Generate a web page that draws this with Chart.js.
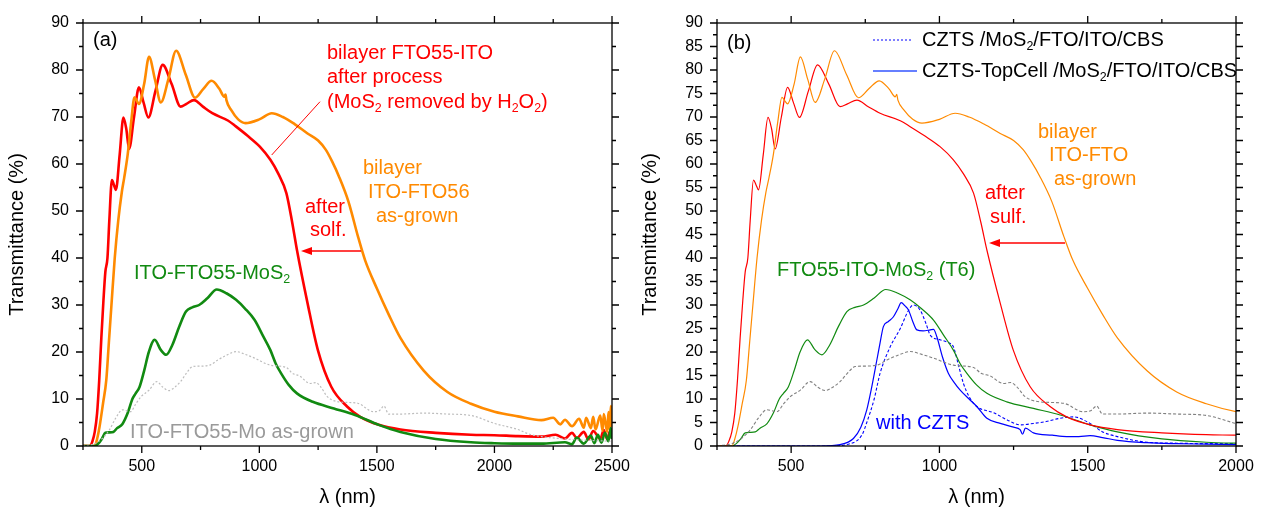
<!DOCTYPE html>
<html>
<head>
<meta charset="utf-8">
<script src="https://cdn.jsdelivr.net/npm/chart.js"></script>
<style>
  body { margin: 0; background: #fff; width: 1261px; height: 509px; overflow: hidden; position: relative; }
  canvas { position: absolute; top: 0; }
</style>
</head>
<body>
<canvas id="chartA" width="630" height="509" style="left:0"></canvas>
<canvas id="chartB" width="631" height="509" style="left:630px"></canvas>
<script>
// wavelengths (nm) and transmittance (%)
const redWl = [250, 280, 290, 300, 310, 319, 328, 337, 345, 354, 362, 373, 382, 390, 406, 422, 434, 446, 467, 488, 508, 528, 558, 589, 627, 665, 690, 722, 760, 800, 868, 900, 950, 1002, 1047, 1080, 1115, 1140, 1160, 1205, 1249, 1306, 1373, 1429, 1508, 1600, 1750, 1900, 2000, 2100, 2200, 2260, 2300, 2330, 2350, 2380, 2400, 2420, 2450, 2465, 2480, 2490, 2500];
const redT  = [0, 0, 1, 3, 7, 14, 23, 31, 37, 40, 48, 56.6, 55.5, 54.5, 62, 69.9, 67.5, 63.2, 70, 76.3, 73, 69.9, 75.5, 81.1, 77, 72.2, 72.8, 73.6, 72.2, 70.8, 69.2, 68, 66, 63.7, 60.9, 58, 53.8, 47.5, 41.7, 30.4, 20.4, 12.6, 8.4, 6.2, 4.5, 3.5, 2.8, 2.4, 2.3, 2.1, 2.0, 2.4, 1.6, 2.8, 1.7, 3.0, 1.4, 3.2, 1.5, 3.4, 1.4, 3.0, 2.0];

const orangeWl = [250, 300, 310, 320, 335, 349, 360, 371, 385, 400, 415, 425, 440, 455, 469, 478, 488, 510, 531, 556, 581, 613, 646, 687, 727, 762, 797, 830, 851, 856, 860, 880, 910, 941, 1000, 1053, 1100, 1150, 1205, 1250, 1283, 1310, 1339, 1379, 1420, 1450, 1500, 1550, 1600, 1700, 1800, 1900, 2000, 2100, 2200, 2250, 2280, 2300, 2330, 2360, 2380, 2390, 2410, 2420, 2430, 2450, 2460, 2465, 2480, 2485, 2490, 2495, 2500];
const orangeT  = [0, 0, 1.5, 4, 9, 14, 22, 30, 40, 48, 54, 57, 62, 69, 74.2, 73.5, 72.8, 77, 82.8, 78, 73.1, 78, 84.1, 79, 74.1, 76, 77.7, 76, 74.3, 74.8, 73.6, 71.5, 69.5, 68.7, 69.5, 70.8, 70, 68.5, 66.5, 65, 63, 60.5, 57.3, 52, 44.5, 39.5, 33.5, 28, 23, 16, 11.5, 9, 7.3, 6.3, 5.5, 6.0, 4.6, 5.6, 4.2, 5.8, 3.9, 6.0, 3.8, 6.2, 3.5, 6.5, 3.2, 6.8, 3.0, 7.2, 3.5, 8.5, 4];

const greenWl = [250, 300, 315, 330, 345, 362, 379, 395, 418, 440, 460, 474, 490, 510, 530, 555, 580, 604, 630, 660, 688, 715, 744, 780, 819, 860, 901, 940, 980, 1015, 1047, 1070, 1092, 1125, 1160, 1227, 1317, 1407, 1508, 1600, 1750, 1900, 2000, 2100, 2200, 2300, 2330, 2350, 2380, 2410, 2425, 2440, 2455, 2470, 2485, 2495, 2500];
const greenT  = [0, 0, 0.5, 1.5, 2.8, 2.9, 3.0, 3.8, 4.7, 7, 10, 11.2, 12.5, 16, 20, 22.6, 20.5, 19.4, 21.5, 25.5, 28.6, 29.5, 30.0, 31.5, 33.3, 32.5, 31.1, 29.2, 26.8, 23.5, 20.4, 17.5, 15.5, 13, 11.2, 9.4, 8.0, 6.6, 4.5, 3.0, 1.5, 0.8, 0.6, 0.5, 0.5, 0.8, 0.4, 1.8, 0.5, 2.2, 0.6, 2.4, 0.7, 2.8, 1.0, 3.8, 1.5];

const grayWl = [250, 300, 330, 362, 390, 418, 452, 475, 497, 531, 564, 590, 615, 640, 665, 690, 716, 750, 789, 823, 860, 901, 940, 980, 1047, 1115, 1140, 1171, 1216, 1240, 1261, 1289, 1339, 1418, 1485, 1510, 1530, 1550, 1600, 1700, 1800, 1900, 2000, 2100, 2150, 2200, 2300, 2400, 2500];
const grayT  = [0, 0.5, 1.5, 3.4, 6, 7.7, 7.3, 9, 10.5, 11.9, 13.7, 12.5, 11.8, 12.5, 13.7, 15.5, 16.9, 17, 17.2, 18.3, 19.3, 20.1, 19.5, 18.7, 17.2, 16.7, 15.5, 14.9, 13.3, 13.5, 12.6, 10.5, 9.4, 9.1, 7.3, 7.5, 8.5, 6.8, 6.8, 7, 6.8, 6.5, 4.8, 3.5, 2.5, 2, 1.5, 1.2, 1];

// panel (b) only
const topCellWl = [250, 600, 665, 710, 735, 755, 770, 789, 800, 811, 828, 845, 860, 871, 884, 896, 910, 924, 945, 969, 980, 991, 1010, 1030, 1050, 1070, 1100, 1126, 1160, 1205, 1250, 1272, 1280, 1290, 1317, 1380, 1429, 1470, 1508, 1550, 1600, 1700, 1800, 1900, 2000];
const topCellT  = [0, 0, 0.3, 1.6, 4, 7.7, 12, 18.3, 22, 25.4, 26.5, 27.5, 29.2, 30.5, 29.8, 28.9, 26.5, 24.7, 24.5, 24.7, 24.8, 23.3, 19, 15.5, 13.5, 11.9, 10, 8.4, 5.9, 4.8, 4.0, 3.5, 2.5, 3.8, 2.8, 2.3, 2.0, 2.0, 2.2, 1.8, 1.2, 0.7, 0.5, 0.4, 0.3];

const cztsWl = [250, 620, 700, 740, 755, 780, 800, 834, 868, 896, 912, 935, 955, 969, 1002, 1030, 1047, 1065, 1081, 1100, 1126, 1182, 1230, 1272, 1317, 1360, 1407, 1452, 1508, 1550, 1600, 1700, 1800, 1900, 2000];
const cztsT  = [0, 0, 0.5, 2.5, 5, 10, 15.5, 21.1, 25, 28.9, 30, 28.9, 26, 23.6, 22.6, 22, 21.1, 17, 13.3, 10.5, 8.4, 7.1, 5.5, 4.5, 4.8, 5.2, 5.9, 6.2, 4.8, 3, 2, 0.8, 0.6, 0.5, 0.5];

// tick values
const xTicksA = [500, 1000, 1500, 2000, 2500];
const xMinorA = [250, 750, 1250, 1750, 2250];
const yTicksA = [0, 10, 20, 30, 40, 50, 60, 70, 80, 90];
const yMinorA = [5, 15, 25, 35, 45, 55, 65, 75, 85];
const xTicksB = [500, 1000, 1500, 2000];
const xMinorB = [250, 750, 1250, 1750];
const yTicksB = [0, 5, 10, 15, 20, 25, 30, 35, 40, 45, 50, 55, 60, 65, 70, 75, 80, 85, 90];
const yMinorB = [2.5, 7.5, 12.5, 17.5, 22.5, 27.5, 32.5, 37.5, 42.5, 47.5, 52.5, 57.5, 62.5, 67.5, 72.5, 77.5, 82.5, 87.5];

const RED = '#ff0000', ORANGE = '#ff8a00', GREEN = '#118a11', BLUE = '#0000ff';
const FONT = '"Liberation Sans", Arial, sans-serif';

function pts(wl, t) {
  return wl.map((x, i) => ({x: x, y: t[i]}));
}

// text with subscripts: pieces starting with '_' are subscript
function richText(ctx, x, y, parts, color, size) {
  ctx.fillStyle = color;
  ctx.textBaseline = 'middle';
  ctx.textAlign = 'left';
  parts.forEach(p => {
    if (p[0] === '_') {
      ctx.font = (size * 0.62) + 'px ' + FONT;
      ctx.fillText(p.slice(1), x, y + size * 0.32);
      x += ctx.measureText(p.slice(1)).width;
    } else {
      ctx.font = size + 'px ' + FONT;
      ctx.fillText(p, x, y);
      x += ctx.measureText(p).width;
    }
  });
}

// frame, ticks on all four sides, annotations
const framePlugin = {
  id: 'frame',
  afterDraw(chart, args, o) {
    const {ctx, chartArea: a, scales: {x, y}} = chart;
    ctx.save();
    ctx.strokeStyle = '#000';
    ctx.lineWidth = 1.3;
    ctx.strokeRect(a.left, a.top, a.right - a.left, a.bottom - a.top);
    ctx.beginPath();
    const xt = (vals, len) => vals.forEach(v => {
      const px = x.getPixelForValue(v);
      ctx.moveTo(px, a.bottom); ctx.lineTo(px, a.bottom + len);
      ctx.moveTo(px, a.top); ctx.lineTo(px, a.top - len);
    });
    const yt = (vals, len) => vals.forEach(v => {
      const py = y.getPixelForValue(v);
      ctx.moveTo(a.left, py); ctx.lineTo(a.left - len, py);
      ctx.moveTo(a.right, py); ctx.lineTo(a.right + len, py);
    });
    xt(o.xMajor, 7); xt(o.xMinor, 4);
    yt(o.yMajor, 7); yt(o.yMinor, 4);
    ctx.stroke();

    (o.lines || []).forEach(l => {
      ctx.beginPath();
      ctx.strokeStyle = l.c; ctx.lineWidth = l.w;
      ctx.setLineDash(l.dash || []);
      ctx.moveTo(l.x1, l.y1); ctx.lineTo(l.x2, l.y2);
      ctx.stroke();
    });
    ctx.setLineDash([]);
    (o.arrows || []).forEach(r => {
      ctx.strokeStyle = r.c; ctx.fillStyle = r.c; ctx.lineWidth = 1.6;
      ctx.beginPath();
      ctx.moveTo(r.x1, r.y); ctx.lineTo(r.x2 + 8, r.y);
      ctx.stroke();
      ctx.beginPath();
      ctx.moveTo(r.x2, r.y); ctx.lineTo(r.x2 + 11, r.y - 4); ctx.lineTo(r.x2 + 11, r.y + 4);
      ctx.closePath(); ctx.fill();
    });
    (o.notes || []).forEach(n => richText(ctx, n.x, n.y, n.t, n.c, n.s || 20));
    ctx.restore();
  }
};

function makeChart(id, cfg) {
  const fixedX = s => { s.height = 63; s.paddingLeft = 0; s.paddingRight = 0; };
  const fixedY = s => { s.width = cfg.yWidth; s.paddingTop = 0; s.paddingBottom = 0; };
  return new Chart(document.getElementById(id), {
    type: 'line',
    data: {datasets: cfg.datasets},
    options: {
      responsive: false,
      animation: false,
      layout: {padding: {top: 23, right: cfg.right, left: 0, bottom: 0}},
      elements: {point: {radius: 0}, line: {cubicInterpolationMode: 'monotone'}},
      plugins: {
        legend: {display: false},
        tooltip: {enabled: false},
        frame: cfg.frame
      },
      scales: {
        x: {
          type: 'linear', min: 250, max: cfg.xMax,
          afterBuildTicks: s => { s.ticks = cfg.frame.xMajor.map(v => ({value: v})); },
          afterFit: fixedX,
          grid: {display: false, drawTicks: false},
          border: {display: false},
          ticks: {color: '#000', padding: 11, maxRotation: 0, autoSkip: false, callback: v => String(v), font: {family: FONT, size: 16}},
          title: {display: true, text: 'λ (nm)', color: '#000', padding: {top: 0, bottom: 0}, font: {family: FONT, size: 20}}
        },
        y: {
          type: 'linear', min: 0, max: 90,
          afterBuildTicks: s => { s.ticks = cfg.frame.yMajor.map(v => ({value: v})); },
          afterFit: fixedY,
          grid: {display: false, drawTicks: false},
          border: {display: false},
          ticks: {color: '#000', padding: 14, autoSkip: false, callback: v => String(v), font: {family: FONT, size: 16}},
          title: {display: true, text: 'Transmittance (%)', color: '#000', padding: {top: cfg.titlePad, bottom: 0}, font: {family: FONT, size: 20}}
        }
      }
    },
    plugins: [framePlugin]
  });
}

// panel (a): thick lines
const wA = 2.6;
makeChart('chartA', {
  xMax: 2500, yWidth: 83, right: 18, titlePad: 5,
  datasets: [
    {data: pts(grayWl, grayT), borderColor: '#bdbdbd', borderWidth: 1.2, borderDash: [2, 2]},
    {data: pts(greenWl, greenT), borderColor: GREEN, borderWidth: wA},
    {data: pts(orangeWl, orangeT), borderColor: ORANGE, borderWidth: wA},
    {data: pts(redWl, redT), borderColor: RED, borderWidth: wA}
  ],
  frame: {
    xMajor: xTicksA, xMinor: xMinorA, yMajor: yTicksA, yMinor: yMinorA,
    lines: [{x1: 271.7, y1: 155, x2: 320, y2: 101.7, c: RED, w: 1}],
    arrows: [{x1: 361, x2: 301, y: 251, c: RED}],
    notes: [
      {x: 93, y: 40, c: '#000', t: ['(a)']},
      {x: 327, y: 53, c: RED, t: ['bilayer FTO55-ITO']},
      {x: 327, y: 77, c: RED, t: ['after process']},
      {x: 327, y: 102, c: RED, t: ['(MoS', '_2', ' removed by H', '_2', 'O', '_2', ')']},
      {x: 363, y: 168, c: ORANGE, t: ['bilayer']},
      {x: 368, y: 192, c: ORANGE, t: ['ITO-FTO56']},
      {x: 376, y: 216, c: ORANGE, t: ['as-grown']},
      {x: 305, y: 207, c: RED, t: ['after']},
      {x: 310, y: 230, c: RED, t: ['solf.']},
      {x: 134, y: 273, c: GREEN, t: ['ITO-FTO55-MoS', '_2']},
      {x: 130, y: 432, c: '#9a9a9a', t: ['ITO-FTO55-Mo as-grown']}
    ]
  }
});

// panel (b): thin lines
const wB = 1.2;
makeChart('chartB', {
  xMax: 2000, yWidth: 87, right: 25, titlePad: 8,
  datasets: [
    {data: pts(grayWl, grayT), borderColor: '#808080', borderWidth: 1.1, borderDash: [3, 2]},
    {data: pts(orangeWl, orangeT), borderColor: ORANGE, borderWidth: wB},
    {data: pts(redWl, redT), borderColor: RED, borderWidth: wB},
    {data: pts(greenWl, greenT), borderColor: GREEN, borderWidth: wB},
    {data: pts(cztsWl, cztsT), borderColor: BLUE, borderWidth: 1.1, borderDash: [3, 2]},
    {data: pts(topCellWl, topCellT), borderColor: BLUE, borderWidth: wB}
  ],
  frame: {
    xMajor: xTicksB, xMinor: xMinorB, yMajor: yTicksB, yMinor: yMinorB,
    lines: [
      {x1: 243, y1: 40, x2: 283, y2: 40, c: BLUE, w: 1.2, dash: [2, 2]},
      {x1: 243, y1: 71, x2: 287, y2: 71, c: '#3355ff', w: 1.6}
    ],
    arrows: [{x1: 435, x2: 359, y: 243, c: RED}],
    notes: [
      {x: 97, y: 43, c: '#000', t: ['(b)']},
      {x: 292, y: 40, c: '#000', t: ['CZTS /MoS', '_2', '/FTO/ITO/CBS']},
      {x: 292, y: 71, c: '#000', t: ['CZTS-TopCell /MoS', '_2', '/FTO/ITO/CBS']},
      {x: 408, y: 132, c: ORANGE, t: ['bilayer']},
      {x: 419, y: 155, c: ORANGE, t: ['ITO-FTO']},
      {x: 424, y: 179, c: ORANGE, t: ['as-grown']},
      {x: 355, y: 193, c: RED, t: ['after']},
      {x: 360, y: 217, c: RED, t: ['sulf.']},
      {x: 147, y: 270, c: GREEN, t: ['FTO55-ITO-MoS', '_2', ' (T6)']},
      {x: 246, y: 423, c: BLUE, t: ['with CZTS']}
    ]
  }
});
</script>
</body>
</html>
